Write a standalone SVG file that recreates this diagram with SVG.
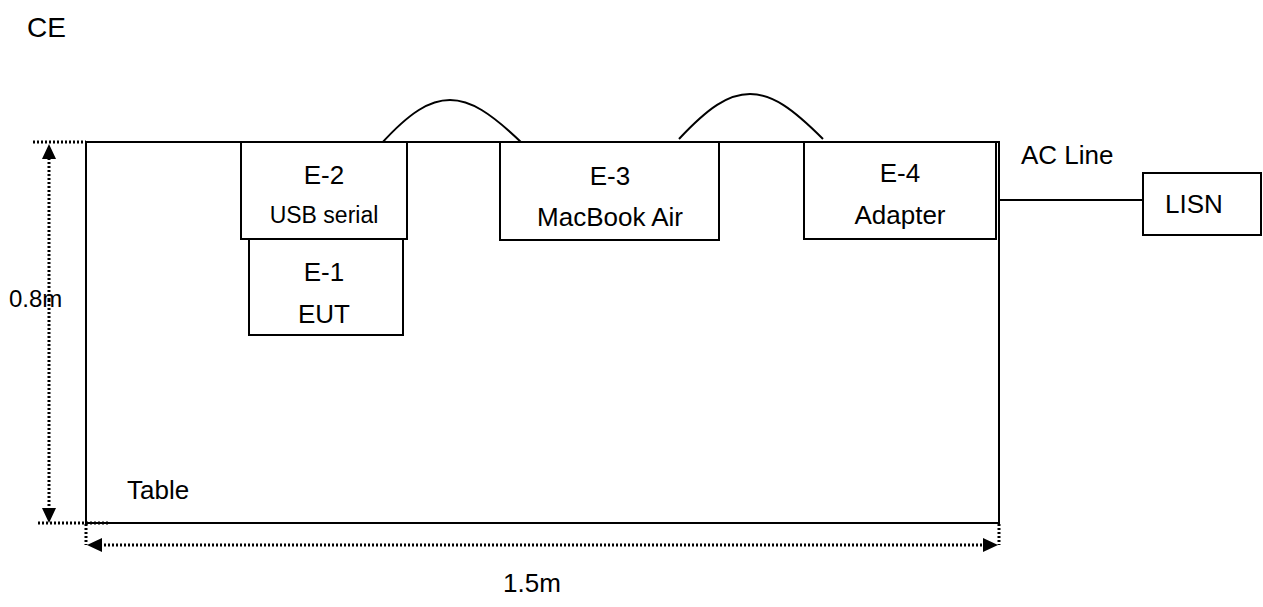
<svg xmlns="http://www.w3.org/2000/svg" width="1263" height="607" viewBox="0 0 1263 607">
  <style>
    text { font-family: "Liberation Sans", Arial, sans-serif; fill: #000; }
    .box { fill: #fff; stroke: #000; stroke-width: 2; }
    .line { fill: none; stroke: #000; stroke-width: 2; }
    .dot { fill: none; stroke: #000; stroke-width: 3; stroke-dasharray: 2 2; }
    .lbl { font-size: 26px; text-anchor: middle; }
    .sm { font-size: 23px; text-anchor: middle; }
    .t { font-size: 26px; }
  </style>
  <rect width="1263" height="607" fill="#fff"/>
  <text x="27" y="37" font-size="28">CE</text>

  <g id="table">
    <rect class="box" x="86" y="142" width="913" height="381"/>
    <text class="t" x="127" y="499">Table</text>
  </g>

  <g id="connectors">
    <path class="line" d="M381,144 C410,112 430,100 450,100 C470,100 490,112 523,144"/>
    <path class="line" d="M679,139 C708,108 728,94 750,94 C772,94 792,108 823,139"/>
    <line class="line" x1="999" y1="200" x2="1143" y2="200"/>
  </g>

  <g id="e2">
    <rect class="box" x="241" y="142" width="166" height="97"/>
    <text class="lbl" x="324" y="184">E-2</text>
    <text class="sm" x="324" y="223">USB serial</text>
  </g>
  <g id="e1">
    <rect class="box" x="249" y="239" width="154" height="96"/>
    <text class="lbl" x="324" y="281">E-1</text>
    <text class="lbl" x="324" y="323">EUT</text>
  </g>
  <g id="e3">
    <rect class="box" x="500" y="142" width="219" height="98"/>
    <text class="lbl" x="610" y="185">E-3</text>
    <text class="lbl" x="610" y="226">MacBook Air</text>
  </g>
  <g id="e4">
    <rect class="box" x="804" y="142" width="192" height="97"/>
    <text class="lbl" x="900" y="182">E-4</text>
    <text class="lbl" x="900" y="224">Adapter</text>
  </g>
  <g id="lisn">
    <rect class="box" x="1143" y="173" width="118" height="62"/>
    <text class="t" x="1165" y="213">LISN</text>
  </g>
  <text class="t" x="1021" y="164">AC Line</text>

  <g id="dimensions">
    <line class="dot" x1="33" y1="142" x2="86" y2="142"/>
    <line class="dot" x1="38" y1="523" x2="108" y2="523"/>
    <line class="dot" x1="49" y1="300" x2="49" y2="150"/>
    <line class="dot" x1="49" y1="300" x2="49" y2="515"/>
    <path d="M49,144 L42,159 L56,159 z"/>
    <path d="M49,523 L42,508 L56,508 z"/>
    <line class="dot" x1="86" y1="524" x2="86" y2="545"/>
    <line class="dot" x1="999" y1="524" x2="999" y2="545"/>
    <line class="dot" x1="100" y1="545" x2="985" y2="545"/>
    <path d="M87,545 L102,538 L102,552 z"/>
    <path d="M998,545 L983,538 L983,552 z"/>
    <text x="9" y="307" font-size="24">0.8m</text>
    <text class="t" x="503" y="592">1.5m</text>
  </g>
</svg>
